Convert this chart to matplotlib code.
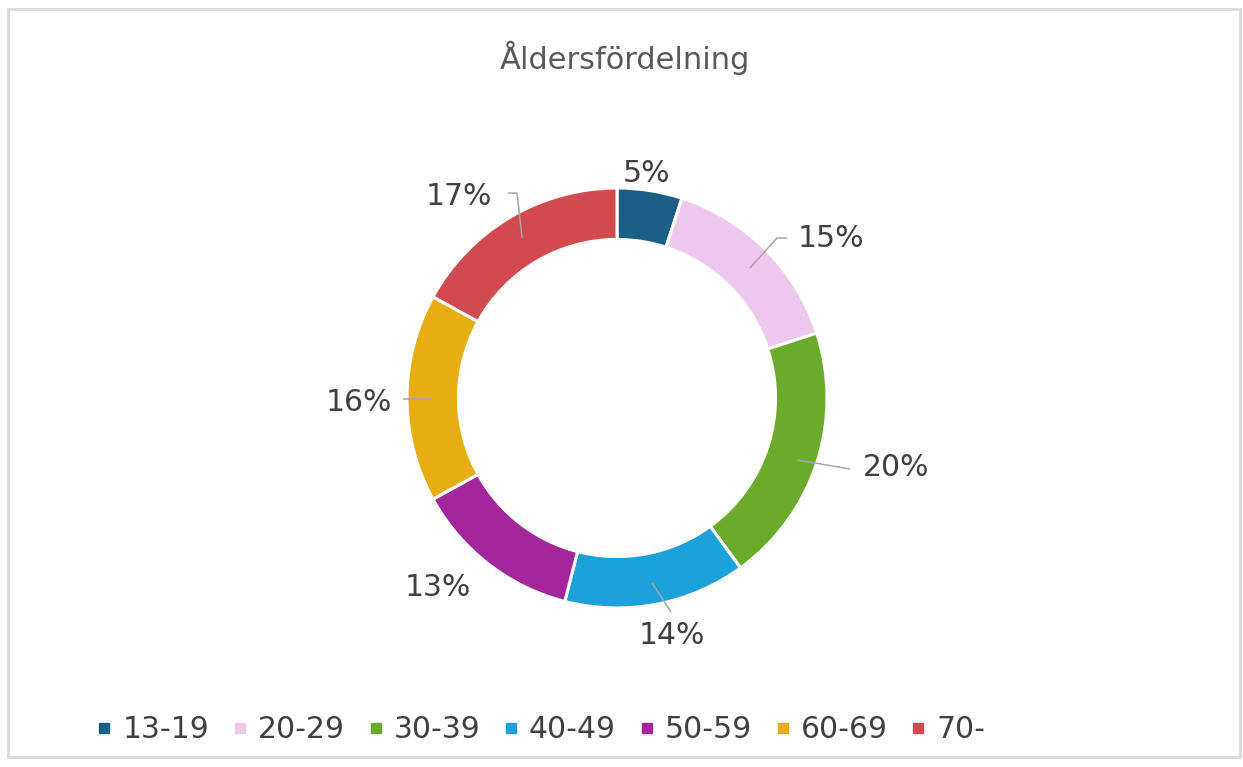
from matplotlib import pyplot as plt
from matplotlib.lines import Line2D
from matplotlib.patches import Rectangle

TITLE = "Åldersfördelning"
age_groups = ["13-19", "20-29", "30-39", "40-49", "50-59", "60-69", "70-"]
shares = [5, 15, 20, 14, 13, 16, 17]
colors = ["#1B5E86", "#EDC8EC", "#6AAB2B", "#1DA1DB",
          "#A3279A", "#E6AE12", "#D04A50"]

# label centres, in units of the outer radius relative to the centre
label_xy = [(0.14, 1.07), (1.02, 0.76), (1.33, -0.33), (0.26, -1.13),
            (-0.855, -0.90), (-1.23, -0.02), (-0.755, 0.96)]
# leader line paths (ring -> label), same units; None = no leader
leaders = [
    None,
    [(0.633, 0.619), (0.762, 0.762), (0.810, 0.762)],
    [(0.857, -0.295), (1.110, -0.338)],
    [(0.167, -0.881), (0.257, -1.019)],
    None,
    [(-0.881, -0.005), (-1.019, -0.005)],
    [(-0.452, 0.762), (-0.476, 0.976), (-0.519, 0.976)],
]

W, H, DPI = 1243, 767, 100
CX, CY, R = 617, 398, 210
TEXT = "#404040"
LINE = "#A6A6A6"


def main():
    fig = plt.figure(figsize=(W / DPI, H / DPI), dpi=DPI)
    fig.patch.set_facecolor("white")
    ax = fig.add_axes([0, 0, 1, 1])

    ax.pie(shares, colors=colors, startangle=90, counterclock=False,
           radius=1.0,
           wedgeprops=dict(width=0.245, edgecolor="white", linewidth=2.2))
    # pie() resets the limits, so set them afterwards
    ax.set_xlim(-CX / R, (W - CX) / R)
    ax.set_ylim(-(H - CY) / R, CY / R)
    ax.set_aspect("equal")
    ax.axis("off")

    for share, (lx, ly), path in zip(shares, label_xy, leaders):
        if path is not None:
            xs, ys = zip(*path)
            ax.plot(xs, ys, color=LINE, lw=1.1, solid_capstyle="butt")
        ax.text(lx, ly, f"{share}%", ha="center", va="center",
                fontsize=21.5, color=TEXT)

    fig.text(625 / W, 1 - 58 / H, TITLE, ha="center", va="center",
             fontsize=22, color="#595959")

    handles = [Line2D([], [], marker="s", linestyle="none", markersize=6.5,
                      markerfacecolor=c, markeredgecolor=c) for c in colors]
    fig.legend(handles, age_groups, loc="center left",
               bbox_to_anchor=(97 / W, 1 - 730 / H), ncol=len(age_groups),
               frameon=False, fontsize=21.5, handlelength=0.5,
               handletextpad=0.35, columnspacing=0.78,
               borderpad=0, borderaxespad=0, labelcolor=TEXT)

    fig.add_artist(Rectangle((8 / W, 1 - 757 / H), (1240 - 8) / W, (757 - 9) / H,
                             transform=fig.transFigure, fill=False,
                             edgecolor="#D9D9D9", linewidth=2))

    fig.savefig("out.png", dpi=DPI)


if __name__ == '__main__':
    main()
